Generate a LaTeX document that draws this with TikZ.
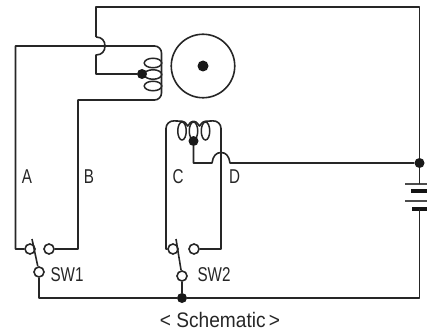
\documentclass[tikz,border=0pt]{standalone}
\usepackage{fontspec}
\setmainfont{Liberation Sans}
\usetikzlibrary{shapes.geometric}
\tikzset{
  wire/.style={line width=1.6pt,draw=black!85,line join=round},
  contact/.style={circle,draw=black!85,line width=1.6pt,fill=white,minimum size=10pt,inner sep=0pt},
  joint/.style={circle,fill=black!90,minimum size=10pt,inner sep=0pt},
  hloop/.style={ellipse,draw=black!85,line width=1.5pt,minimum width=17.5pt,minimum height=9.5pt,inner sep=0pt},
  vloop/.style={ellipse,draw=black!85,line width=1.5pt,minimum width=8.5pt,minimum height=18pt,inner sep=0pt},
  lbl/.style={text=black!85,font=\fontsize{20}{20}\selectfont,inner sep=0pt,xscale=0.76},
  caplbl/.style={text=black!85,font=\fontsize{21}{21}\selectfont,inner sep=0pt,xscale=0.91},
  plate/.style={draw=black!70,line width=1.8pt},
  thick plate/.style={draw=black!92,line width=3.4pt}
}
\begin{document}
\begin{tikzpicture}[x=1pt,y=-1pt]
\useasboundingbox (0,0) rectangle (427,331);
% motor
\node[circle,draw=black!85,line width=1.6pt,minimum size=63.5pt,inner sep=0pt] (rotor) at (203,66) {};
\node[circle,fill=black!90,minimum size=11pt,inner sep=0pt] (shaft) at (203,66) {};
% coil 1
\node[hloop] (l1) at (153,63) {};
\node[hloop] (l2) at (153,74.5) {};
\node[hloop] (l3) at (153,86) {};
\node[joint] (tap1) at (142,74) {};
% coil 2
\node[vloop] (m1) at (182,131) {};
\node[vloop] (m2) at (193.5,131) {};
\node[vloop] (m3) at (205.5,131) {};
\node[joint] (tap2) at (193.5,141) {};
% contacts
\node[contact] (s1a) at (30,249) {};
\node[contact] (s1b) at (49,249) {};
\node[contact] (s1c) at (39,272) {};
\node[contact] (s2a) at (173,249) {};
\node[contact] (s2b) at (194,249) {};
\node[contact] (s2c) at (182,276) {};
\node[joint] (j1) at (182,298) {};
\node[joint] (j2) at (419.5,163) {};
% battery
\draw[plate] (405,184) -- (427,184);
\draw[thick plate] (411,191) -- (427,191);
\draw[plate] (405,201) -- (427,201);
\draw[thick plate] (412,209) -- (427,209);
% switch blades
\coordinate (b1) at (32,239);
\coordinate (b2) at (176,239);
\draw[wire] (b1) -- (s1c);
\draw[wire] (b2) -- (s2c);
% wire A and B
\draw[wire] (s1a) -- (15.5,249) -- (15.5,46) [rounded corners=7pt] -- (161.5,46) -- (161.5,100) [sharp corners] -- (78,100) -- (78,249) -- (s1b);
% top wire with hop
\draw[wire] (96,37) .. controls (102,37) and (105,41) .. (105,46) .. controls (105,51) and (102,55) .. (96,55) -- (96,74) -- (tap1);
\draw[wire] (96,37) -- (96,7) -- (419.5,7) -- (j2) -- (419.5,184);
% wire C, D and the humps of the coil
\draw[wire] (s2a) -- (166,249) [rounded corners=8pt] -- (166,120.5) -- (m1.north);
\draw[wire] (m3.north) [rounded corners=8pt] -- (221,120.5) [sharp corners] -- (221,249) -- (s2b);
\draw[wire] (m1.north) .. controls (186,121.5) and (187,126) .. (187.7,126) .. controls (188.5,126) and (189.5,121.5) .. (m2.north);
\draw[wire] (m2.north) .. controls (197.5,121.5) and (198.8,126) .. (199.5,126) .. controls (200.3,126) and (201.5,121.5) .. (m3.north);
% centre tap and hop
\draw[wire] (tap2) -- (193.5,163) -- (212,163) .. controls (213,156) and (216,152.5) .. (221,152.5) .. controls (226,152.5) and (229,156) .. (230,163) -- (j2);
% bottom
\draw[wire] (419.5,209) -- (419.5,298) -- (j1) -- (39,298) -- (s1c);
\draw[wire] (j1) -- (s2c);
% labels
\node[lbl] (la) at (27,177) {A};
\node[lbl] (lb) at (89,177) {B};
\node[lbl] (lc) at (178,177) {C};
\node[lbl] (ld) at (234.5,177) {D};
\node[lbl] (sw1) at (67,275) {SW1};
\node[lbl] (sw2) at (214,275) {SW2};
\node[caplbl] (cap) at (220,320) {< Schematic\,>};
\end{tikzpicture}
\end{document}
